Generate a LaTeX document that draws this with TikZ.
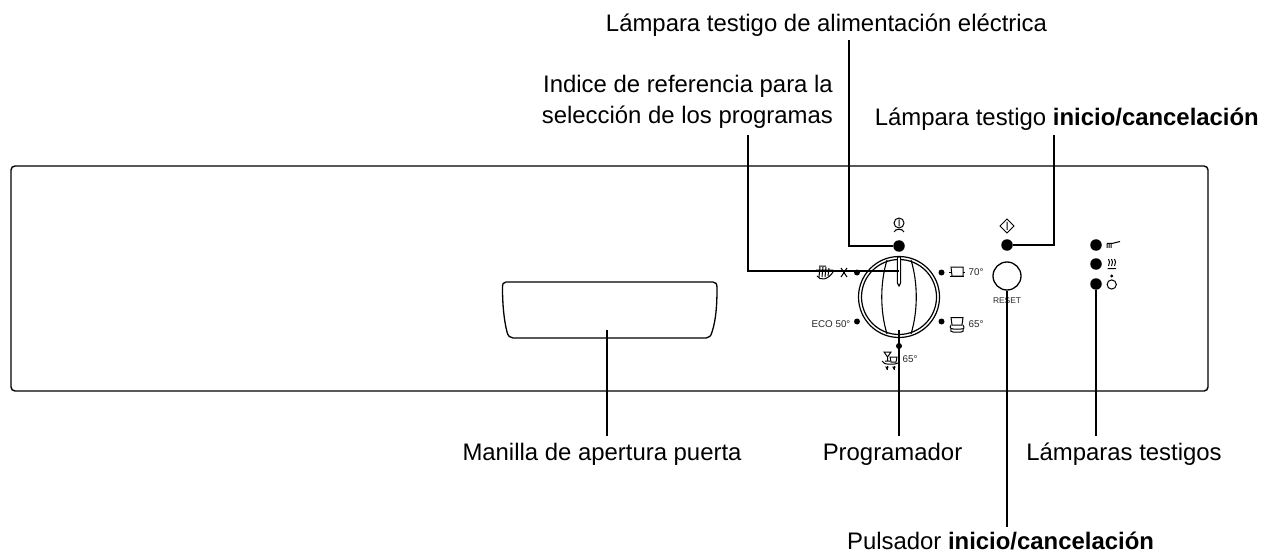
\documentclass[tikz,border=0pt]{standalone}
\usepackage{fontspec}
\setmainfont{Liberation Sans}
\tikzset{
  lbl/.style={inner sep=0pt, font=\fontsize{23.9}{31}\selectfont},
  small/.style={inner sep=0pt, font=\fontsize{9.8}{12}\selectfont, text=black!85},
  lead/.style={line width=1.5},
  lamp/.style={circle, fill=black, inner sep=0pt, minimum size=11.5},
  pip/.style={circle, fill=black, inner sep=0pt, minimum size=6},
  icon/.style={line width=1}
}
\begin{document}
\begin{tikzpicture}[x=1pt, y=-1pt]
\useasboundingbox (0, 0) rectangle (1273, 553);
% panel and door handle
\draw[line width=1.4, rounded corners=4] (11, 166) rectangle (1208, 391);
\draw[line width=1.3] (506, 282) -- (713, 282) .. controls (716, 282) and (717, 284) .. (717, 288)
  .. controls (717, 305) and (716, 320) .. (712, 332) .. controls (711, 336) and (709, 338) .. (706, 338)
  -- (513, 338) .. controls (510, 338) and (508, 336) .. (507, 332)
  .. controls (504, 320) and (502.5, 305) .. (502.5, 288) .. controls (502.5, 284) and (503, 282) .. (506, 282);
% programme dial
\draw[line width=1.2] (899, 297) circle (40.5);
\draw[line width=1.2] (899, 297) circle (37.5);
\draw[line width=1.1] (887, 260) .. controls (880, 283) and (880, 311) .. (887, 334);
\draw[line width=1.1] (911, 260) .. controls (918, 283) and (918, 311) .. (911, 334);
\draw[line width=1.1, fill=white] (897.4, 257) -- (897.4, 283) -- (899, 286) -- (900.6, 283) -- (900.6, 257) -- cycle;
% lamps, pips and button
\node[lamp] (lampPower) at (899, 246) {};
\node[lamp] (lampStart) at (1007, 245) {};
\node[lamp] (lampA) at (1096, 245) {};
\node[lamp] (lampB) at (1096, 264) {};
\node[lamp] (lampC) at (1096, 284) {};
\node[pip] (pipA) at (857, 272.5) {};
\node[pip] (pipB) at (941.5, 272.5) {};
\node[pip] (pipC) at (857, 321.5) {};
\node[pip] (pipD) at (941.5, 321.5) {};
\node[pip] (pipE) at (899, 346) {};
\node[circle, draw, line width=1.3, inner sep=0pt, minimum size=28] (button) at (1007, 276) {};
\node[small, font=\fontsize{8.4}{10}\selectfont] (reset) at (1007, 301) {RESET};
% panel texts
\node[small] (tempA) at (976, 272.5) {70°};
\node[small] (tempB) at (976, 324) {65°};
\node[small] (tempC) at (831, 324) {ECO 50°};
\node[small] (tempD) at (910, 359) {65°};
% icons
\draw[icon] (899, 223) circle (5) (899, 219.5) -- (899, 226.5);
\draw[icon] (895, 230.5) .. controls (897, 229) and (901, 229) .. (903, 230.5);
\draw[icon] (894, 232) -- (896, 230) (904, 232) -- (902, 230);
\draw[icon] (1007, 219) -- (1014, 226) -- (1007, 233) -- (1000, 226) -- cycle (1007, 222) -- (1007, 230);
\draw[icon] (841, 268) -- (847, 277) (847, 268) -- (841, 277);
\draw[icon] (819, 266) -- (826, 266) (816, 270) -- (833, 270) (817, 276) .. controls (820, 281) and (828, 280) .. (833, 272);
\draw[icon] (820, 267) -- (819, 277) (823, 267) -- (822, 277) (826, 267) -- (825, 277) (829, 268) -- (828, 276);
\draw[icon] (951, 267) -- (963, 267) -- (963, 276) -- (952, 276) -- cycle;
\draw[icon] (949, 272) -- (952, 272) (963, 272) -- (965, 272) (950, 276.5) -- (964, 276.5);
\draw[icon] (951, 317.5) -- (963, 317.5) -- (962, 325) -- (952, 325) -- cycle;
\draw[icon] (951, 325) .. controls (949, 328) and (951, 329) .. (953, 329) -- (961, 329) .. controls (964, 329) and (965, 328) .. (963, 325);
\draw[icon] (951, 329) .. controls (950, 331) and (951, 332) .. (953, 332) -- (961, 332) .. controls (963, 332) and (964, 331) .. (963, 329);
\draw[icon] (884, 352) -- (891, 352) -- (887.5, 357) -- cycle (887.5, 357) -- (887.5, 361) (885, 361) -- (890, 361);
\draw[icon] (890, 357) -- (897, 357) -- (896, 362) -- (891, 362) -- cycle;
\draw[icon] (882, 361) .. controls (883, 365) and (894, 365) .. (898, 363);
\draw[icon] (886, 367) -- (887, 369) -- (888, 367) -- cycle (893, 367) -- (894, 369) -- (895, 367) -- cycle;
\draw[icon] (887, 366) -- (887, 369.5) (894, 366) -- (894, 369.5);
\draw[icon] (1107, 243.5) -- (1112, 243.5) (1107, 243.5) -- (1107, 248) (1109, 243.5) -- (1109, 248) (1111, 243.5) -- (1111, 248) (1112, 243.5) -- (1120, 241.5);
\draw[icon] (1108.5, 259) -- (1109.5, 262) -- (1108.5, 266) (1111.5, 259) -- (1112.5, 262) -- (1111.5, 266) (1114.5, 259) -- (1115.5, 262) -- (1114.5, 266) (1107.5, 268.5) -- (1116, 268.5);
\draw[icon] (1111.7, 284.5) circle (4.6);
\fill (1111.7, 276) circle (1.6);
% labels
\node[lbl] (powerLabel) at (826.5, 25.5) {Lámpara testigo de alimentación eléctrica};
\node[lbl, align=right, anchor=east] (indexLabel) at (833, 102) {Indice de referencia para la\\selección de los programas};
\node[lbl, anchor=east] (startLabel) at (1259, 119) {Lámpara testigo \textbf{inicio/cancelación}};
\node[lbl] (handleLabel) at (602, 454) {Manilla de apertura puerta};
\node[lbl] (dialLabel) at (892.5, 454) {Programador};
\node[lbl] (lampsLabel) at (1124, 454) {Lámparas testigos};
\node[lbl] (buttonLabel) at (1000.5, 540.5) {Pulsador \textbf{inicio/cancelación}};
% connectors
\coordinate (indexTip) at (899, 271);
\coordinate (indexEnd) at (748, 135);
\coordinate (powerEnd) at (849, 40);
\coordinate (startEnd) at (1054, 135);
\coordinate (handleTip) at (607, 330);
\coordinate (handleEnd) at (607, 436);
\coordinate (dialTip) at (899, 330);
\coordinate (dialEnd) at (899, 436);
\coordinate (lampsEnd) at (1096, 436);
\coordinate (buttonEnd) at (1007, 527);
\draw[lead] (indexEnd) |- (indexTip);
\draw[lead] (powerEnd) |- (lampPower);
\draw[lead] (startEnd) |- (lampStart);
\draw[lead] (handleTip) -- (handleEnd);
\draw[lead] (dialTip) -- (dialEnd);
\draw[lead] (lampC) -- (lampsEnd);
\draw[lead] (button.south) -- (buttonEnd);
\end{tikzpicture}
\end{document}
